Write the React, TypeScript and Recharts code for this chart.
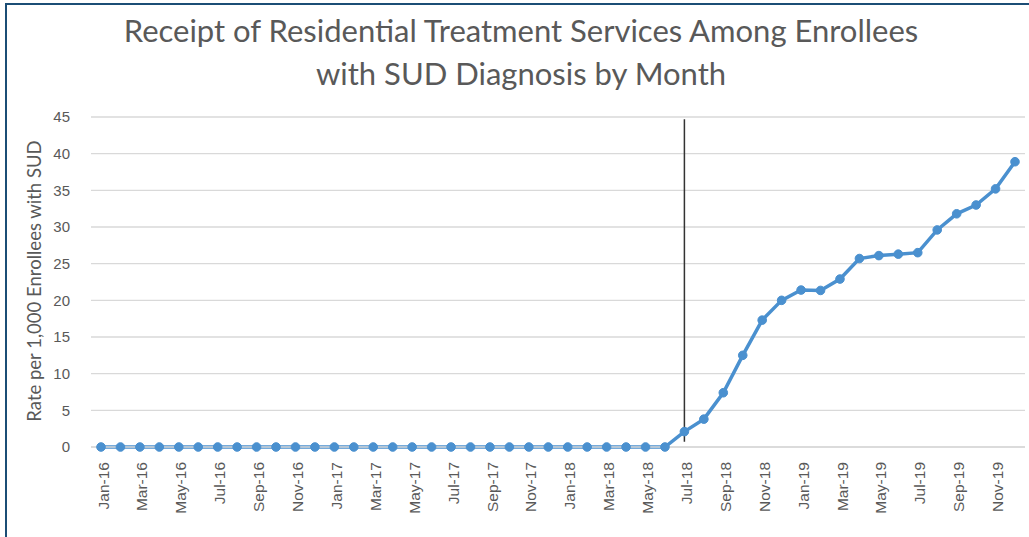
import React from 'react';
import { LineChart, Line, XAxis, YAxis, CartesianGrid, ReferenceLine } from 'recharts';

const MONTHS = ['Jan', 'Feb', 'Mar', 'Apr', 'May', 'Jun', 'Jul', 'Aug', 'Sep', 'Oct', 'Nov', 'Dec'];
const YEARS = ['16', '17', '18', '19'];

// rate per 1,000 enrollees with SUD, Jan-16 .. Dec-19
const RATES = [
  0, 0, 0, 0, 0, 0, 0, 0, 0, 0, 0, 0,
  0, 0, 0, 0, 0, 0, 0, 0, 0, 0, 0, 0,
  0, 0, 0, 0, 0, 0, 2.1, 3.8, 7.4, 12.5, 17.3, 20.0,
  21.4, 21.35, 22.9, 25.7, 26.1, 26.3, 26.5, 29.6, 31.8, 33.0, 35.2, 38.9,
];

const Y_TICKS = [0, 5, 10, 15, 20, 25, 30, 35, 40, 45];

const labels = YEARS.flatMap((y) => MONTHS.map((m) => `${m}-${y}`));
const data = labels.map((month, i) => ({ month, rate: RATES[i] }));

const MonthTick = (props: any) => {
  const { x, y, payload } = props;
  return (
    <text
      x={0}
      y={0}
      dy="0.36em"
      transform={`translate(${x + 2},${y + 7}) rotate(-90)`}
      textAnchor="end"
      fill="#595959"
      fontSize={15.5}
      fontFamily="'Liberation Sans', Arial, sans-serif"
    >
      {payload.value}
    </text>
  );
};

export default function App() {
  return (
    <div
      style={{
        position: 'absolute',
        left: 0,
        top: 0,
        width: 1029,
        height: 537,
        background: '#fff',
        overflow: 'hidden',
      }}
    >
      <div
        style={{
          position: 'absolute',
          left: 5,
          top: 3,
          right: 0,
          bottom: 0,
          borderLeft: '2px solid #1b4d75',
          borderTop: '2px solid #1b4d75',
        }}
      />
      <div
        style={{
          position: 'absolute',
          left: 71,
          width: 900,
          top: 9,
          textAlign: 'center',
          fontFamily: 'Lato, Calibri, sans-serif',
          fontSize: 31,
          lineHeight: '43px',
          color: '#595959',
        }}
      >
        Receipt of Residential Treatment Services Among Enrollees
        <br />
        with SUD Diagnosis by Month
      </div>
      <div
        style={{
          position: 'absolute',
          left: 34,
          top: 281,
          transform: 'translate(-50%, -50%) rotate(-90deg)',
          whiteSpace: 'nowrap',
          fontFamily: 'Lato, Calibri, sans-serif',
          fontSize: 18.5,
          color: '#595959',
        }}
      >
        Rate per 1,000 Enrollees with SUD
      </div>
      <LineChart
        width={1029}
        height={537}
        data={data}
        margin={{ top: 117, right: 4, bottom: 10, left: 51 }}
        style={{ position: 'absolute', left: 0, top: 0 }}
      >
        <CartesianGrid vertical={false} stroke="#d9d9d9" strokeWidth={1.3} />
        <XAxis
          dataKey="month"
          interval={1}
          height={80}
          padding={{ left: 10, right: 10 }}
          tick={<MonthTick />}
          tickLine={false}
          axisLine={{ stroke: '#d9d9d9', strokeWidth: 1.3 }}
        />
        <YAxis
          width={40}
          domain={[0, 45]}
          ticks={Y_TICKS}
          interval={0}
          tickLine={false}
          axisLine={false}
          tickSize={0}
          tickMargin={21}
          tick={{ fill: '#595959', fontSize: 15, fontFamily: "'Liberation Sans', Arial, sans-serif" }}
        />
        <ReferenceLine
          segment={[
            { x: 'Jul-18', y: 44.7 },
            { x: 'Jul-18', y: 0.7 },
          ]}
          stroke="#333"
          strokeWidth={1.5}
        />
        <Line
          type="linear"
          dataKey="rate"
          stroke="#4a90cf"
          strokeWidth={3.5}
          dot={{ r: 4.3, fill: '#4a90cf', stroke: '#4a90cf', strokeWidth: 1 }}
          isAnimationActive={false}
        />
      </LineChart>
    </div>
  );
}
